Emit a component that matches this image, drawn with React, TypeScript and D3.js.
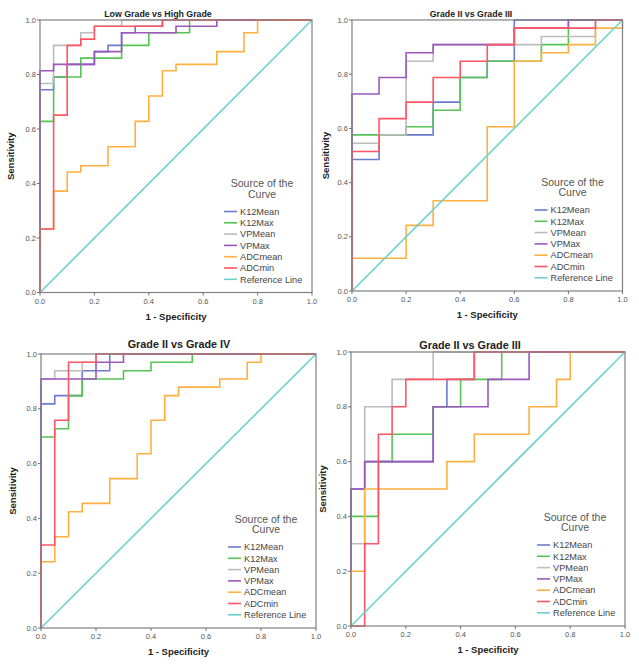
import React from "react";
import * as d3 from "d3";

// ---------- data (fpr, tpr) step points ----------
const seriesNames = ["K12Mean", "K12Max", "VPMean", "VPMax", "ADCmean", "ADCmin"];
const legendLabels = ["K12Mean", "K12Max", "VPMean", "VPMax", "ADCmean", "ADCmin", "Reference Line"];
const tickValues = [0, 0.2, 0.4, 0.6, 0.8, 1.0];
const referenceLine = [[0, 0], [1, 1]];

// Panel 1: Low Grade vs High Grade
const p1K12Mean = [[0, 0], [0, 0.744], [0.05, 0.791], [0.1, 0.837], [0.2, 0.884], [0.25, 0.907], [0.3, 0.953], [0.35, 0.977], [0.45, 1], [1, 1]];
const p1K12Max = [[0, 0], [0, 0.628], [0.05, 0.791], [0.15, 0.86], [0.3, 0.907], [0.4, 0.953], [0.55, 1], [1, 1]];
const p1VPMean = [[0, 0], [0, 0.767], [0.05, 0.907], [0.15, 0.953], [0.2, 0.977], [0.3, 1], [1, 1]];
const p1VPMax = [[0, 0], [0, 0.814], [0.05, 0.837], [0.2, 0.884], [0.3, 0.953], [0.5, 0.977], [0.65, 1], [1, 1]];
const p1ADCmean = [[0, 0], [0, 0.233], [0.05, 0.372], [0.1, 0.442], [0.15, 0.465], [0.25, 0.535], [0.35, 0.628], [0.4, 0.721], [0.45, 0.814], [0.5, 0.837], [0.65, 0.884], [0.75, 0.953], [0.8, 1], [1, 1]];
const p1ADCmin = [[0, 0], [0, 0.233], [0.05, 0.651], [0.1, 0.907], [0.15, 0.93], [0.2, 0.977], [0.45, 1], [1, 1]];

// Panel 2: Grade II vs Grade III (top)
const p2K12Mean = [[0, 0], [0, 0.485], [0.1, 0.576], [0.3, 0.697], [0.4, 0.788], [0.5, 0.848], [0.6, 1], [1, 1]];
const p2K12Max = [[0, 0], [0, 0.576], [0.2, 0.606], [0.3, 0.667], [0.4, 0.788], [0.5, 0.848], [0.7, 0.909], [0.8, 1], [1, 1]];
const p2VPMean = [[0, 0], [0, 0.545], [0.1, 0.576], [0.2, 0.848], [0.3, 0.909], [0.7, 0.939], [0.9, 1], [1, 1]];
const p2VPMax = [[0, 0], [0, 0.727], [0.1, 0.788], [0.2, 0.879], [0.3, 0.909], [0.6, 0.97], [0.8, 1], [1, 1]];
const p2ADCmean = [[0, 0], [0, 0.121], [0.2, 0.242], [0.3, 0.333], [0.5, 0.606], [0.6, 0.848], [0.7, 0.879], [0.8, 0.909], [0.9, 0.97], [1, 1]];
const p2ADCmin = [[0, 0], [0, 0.515], [0.1, 0.636], [0.2, 0.697], [0.3, 0.788], [0.4, 0.848], [0.5, 0.909], [0.6, 0.97], [0.9, 1], [1, 1]];

// Panel 3: Grade II vs Grade IV
const p3K12Mean = [[0, 0], [0, 0.818], [0.05, 0.848], [0.15, 0.939], [0.25, 1], [1, 1]];
const p3K12Max = [[0, 0], [0, 0.697], [0.05, 0.727], [0.1, 0.848], [0.15, 0.909], [0.3, 0.939], [0.4, 0.97], [0.55, 1], [1, 1]];
const p3VPMean = [[0, 0], [0, 0.909], [0.05, 0.939], [0.15, 0.97], [0.2, 1], [1, 1]];
const p3VPMax = [[0, 0], [0, 0.909], [0.2, 0.97], [0.3, 1], [1, 1]];
const p3ADCmean = [[0, 0], [0, 0.242], [0.05, 0.333], [0.1, 0.424], [0.15, 0.455], [0.25, 0.545], [0.35, 0.636], [0.4, 0.758], [0.45, 0.848], [0.5, 0.879], [0.65, 0.909], [0.75, 0.97], [0.8, 1], [1, 1]];
const p3ADCmin = [[0, 0], [0, 0.303], [0.05, 0.758], [0.1, 0.97], [0.2, 1], [1, 1]];

// Panel 4: Grade II vs Grade III (bottom)
const p4K12Mean = [[0, 0], [0, 0.5], [0.05, 0.6], [0.3, 0.8], [0.35, 0.9], [0.45, 1], [1, 1]];
const p4K12Max = [[0, 0], [0, 0.4], [0.1, 0.6], [0.15, 0.7], [0.3, 0.8], [0.4, 0.9], [0.55, 1], [1, 1]];
const p4VPMean = [[0, 0], [0, 0.3], [0.05, 0.8], [0.15, 0.9], [0.3, 1], [1, 1]];
const p4VPMax = [[0, 0], [0, 0.5], [0.05, 0.6], [0.3, 0.8], [0.5, 0.9], [0.65, 1], [1, 1]];
const p4ADCmean = [[0, 0], [0, 0.2], [0.05, 0.5], [0.35, 0.6], [0.45, 0.7], [0.65, 0.8], [0.75, 0.9], [0.8, 1], [1, 1]];
const p4ADCmin = [[0, 0], [0.05, 0.3], [0.1, 0.7], [0.15, 0.8], [0.2, 0.9], [0.45, 1], [1, 1]];

const panelTitles = ["Low Grade vs High Grade", "Grade II vs Grade III", "Grade II vs Grade IV", "Grade II vs Grade III"];
const panelSeries = [
  [p1K12Mean, p1K12Max, p1VPMean, p1VPMax, p1ADCmean, p1ADCmin],
  [p2K12Mean, p2K12Max, p2VPMean, p2VPMax, p2ADCmean, p2ADCmin],
  [p3K12Mean, p3K12Max, p3VPMean, p3VPMax, p3ADCmean, p3ADCmin],
  [p4K12Mean, p4K12Max, p4VPMean, p4VPMax, p4ADCmean, p4ADCmin],
];

// ---------- styles / layout ----------
const colors = ["#6a7ccf", "#55c455", "#bcbcbc", "#9d57bd", "#ffb040", "#ff5566", "#6cd0d0"];
const FONT = "'Liberation Sans', Arial, sans-serif";

const layouts = [
  { left: 40, right: 312, top: 20, bottom: 292.5, titleX: 158, titleY: 17, titleSize: 8.8, titleWeight: "bold", yLabelX: 14 },
  { left: 352, right: 622.5, top: 20, bottom: 291, titleX: 471, titleY: 17, titleSize: 8.8, titleWeight: "bold", yLabelX: 329 },
  { left: 41, right: 316, top: 354, bottom: 628, titleX: 179, titleY: 348, titleSize: 10.8, titleWeight: "bold", yLabelX: 16 },
  { left: 351, right: 625, top: 352, bottom: 626, titleX: 470, titleY: 349, titleSize: 10.8, titleWeight: "bold", yLabelX: 326 },
];

function Panel({ idx }: { idx: number }) {
  const L = layouts[idx];
  const x = d3.scaleLinear().domain([0, 1]).range([L.left, L.right]);
  const y = d3.scaleLinear().domain([0, 1]).range([L.bottom, L.top]);
  const stepLine = d3
    .line<number[]>()
    .x((d) => x(d[0]))
    .y((d) => y(d[1]))
    .curve(d3.curveStepAfter);
  const straight = d3
    .line<number[]>()
    .x((d) => x(d[0]))
    .y((d) => y(d[1]));
  const series = panelSeries[idx];
  const legX = L.right - 88;
  const legY0 = L.bottom - 81;
  const legStep = 11.3;
  const midX = (L.left + L.right) / 2;
  const midY = (L.top + L.bottom) / 2;
  return (
    <g fontFamily={FONT}>
      <text x={L.titleX} y={L.titleY} textAnchor="middle" fontSize={L.titleSize} fontWeight={L.titleWeight} fill="#222">
        {panelTitles[idx]}
      </text>
      {/* curves */}
      {series.map((s, i) => (
        <path key={seriesNames[i]} d={stepLine(s) || ""} fill="none" stroke={colors[i]} strokeWidth={1.6} />
      ))}
      <path d={straight(referenceLine) || ""} fill="none" stroke={colors[6]} strokeWidth={1.6} />
      {/* frame */}
      <rect x={L.left} y={L.top} width={L.right - L.left} height={L.bottom - L.top} fill="none" stroke="#808080" strokeWidth={1.2} />
      {/* ticks */}
      {tickValues.map((t) => (
        <g key={"x" + t}>
          <line x1={x(t)} x2={x(t)} y1={L.bottom} y2={L.bottom + 3} stroke="#707070" />
          <text x={x(t)} y={L.bottom + 11} textAnchor="middle" fontSize={7.5} fill="#555">
            {t.toFixed(1)}
          </text>
        </g>
      ))}
      {tickValues.map((t) => (
        <g key={"y" + t}>
          <line x1={L.left - 3} x2={L.left} y1={y(t)} y2={y(t)} stroke="#707070" />
          <text x={L.left - 4} y={y(t) + 2.6} textAnchor="end" fontSize={7.5} fill="#555">
            {t.toFixed(1)}
          </text>
        </g>
      ))}
      {/* axis titles */}
      <text x={midX} y={L.bottom + 27} textAnchor="middle" fontSize={9.5} fontWeight="bold" fill="#222">
        1 - Specificity
      </text>
      <text transform={`translate(${L.yLabelX},${midY}) rotate(-90)`} textAnchor="middle" fontSize={9.5} fontWeight="bold" fill="#222">
        Sensitivity
      </text>
      {/* legend */}
      <text x={L.right - 50} y={L.bottom - 105.5} textAnchor="middle" fontSize={10.5} fill="#555">
        Source of the
      </text>
      <text x={L.right - 50} y={L.bottom - 95} textAnchor="middle" fontSize={10.5} fill="#555">
        Curve
      </text>
      {legendLabels.map((lab, i) => (
        <g key={lab}>
          <line x1={legX} x2={legX + 13} y1={legY0 + i * legStep} y2={legY0 + i * legStep} stroke={colors[i]} strokeWidth={1.6} />
          <text x={legX + 16} y={legY0 + i * legStep + 3.2} fontSize={9.2} fill="#444">
            {lab}
          </text>
        </g>
      ))}
    </g>
  );
}

export default function App() {
  return (
    <svg width={639} height={669} style={{ position: "absolute", left: 0, top: 0, background: "#fff" }}>
      <rect width={639} height={669} fill="#fff" />
      {[0, 1, 2, 3].map((i) => (
        <Panel key={i} idx={i} />
      ))}
    </svg>
  );
}
